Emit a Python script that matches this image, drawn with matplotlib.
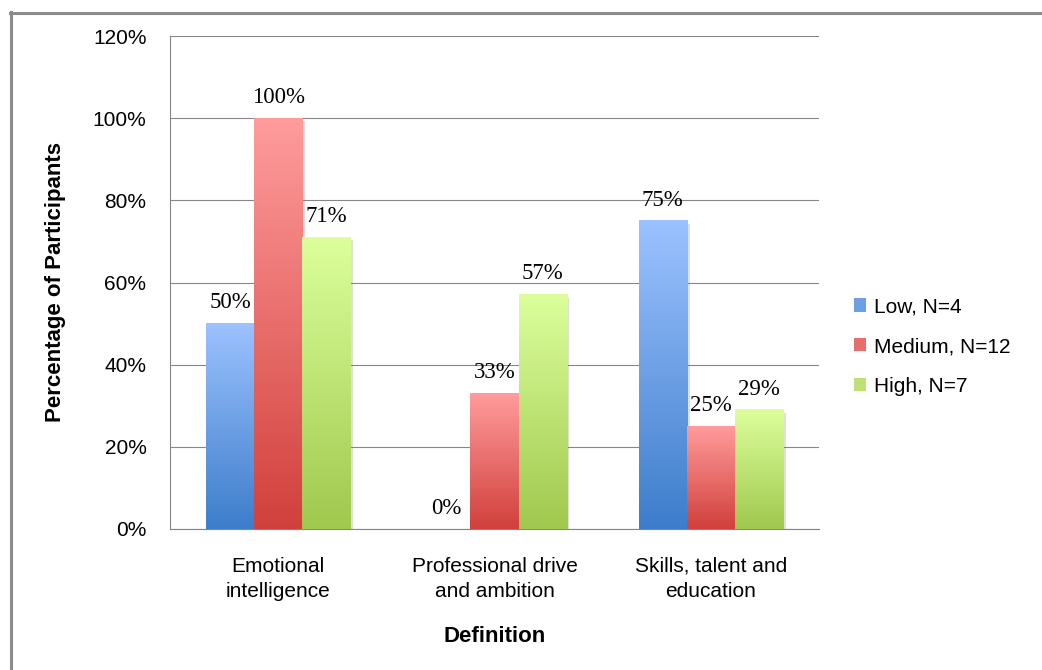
import numpy as np
import matplotlib.pyplot as plt
import matplotlib.transforms as mtransforms
from matplotlib.patches import Rectangle, Patch
from matplotlib.colors import LinearSegmentedColormap
from matplotlib.lines import Line2D

categories = ["Emotional\nintelligence", "Professional drive\nand ambition", "Skills, talent and\neducation"]
series = ["Low, N=4", "Medium, N=12", "High, N=7"]
low = [50, 0, 75]
medium = [100, 33, 25]
high = [71, 57, 29]
yticks = [0, 20, 40, 60, 80, 100, 120]

top_colors = ["#9cc2ff", "#ff9c9c", "#dcff9c"]
bottom_colors = ["#3d7dcb", "#d1403c", "#a0c84e"]
legend_colors = ["#6c9fe6", "#e66e6b", "#bde176"]

plt.rcParams['font.family'] = ['Liberation Sans', 'DejaVu Sans']

fig = plt.figure(figsize=(10.42, 6.70), dpi=100)
ax = fig.add_axes([170/1042, 1 - 529/670, (819 - 170)/1042, (529 - 36)/670])

x = np.arange(len(categories))
width = 0.222
grad = np.linspace(0, 1, 256).reshape(-1, 1)
shadow_tr = ax.transData + mtransforms.ScaledTranslation(2/72, -2/72, fig.dpi_scale_trans)

for i, vals in enumerate([low, medium, high]):
    cmap = LinearSegmentedColormap.from_list("g%d" % i, [top_colors[i], bottom_colors[i]])
    bars = ax.bar(x + (i - 1) * width, vals, width, color='none', zorder=3)
    for b, v in zip(bars, vals):
        x0, h, w = b.get_x(), b.get_height(), b.get_width()
        if h > 0:
            ax.add_patch(Rectangle((x0, 0), w, h, facecolor='#808080', alpha=0.25,
                                   edgecolor='none', transform=shadow_tr, zorder=2))
            ax.imshow(grad, cmap=cmap, extent=[x0, x0 + w, 0, h], aspect='auto',
                      zorder=3, interpolation='bilinear')
        ax.annotate(f"{v}%", (x0 + w/2, h), xytext=(0, 15), textcoords='offset points',
                    ha='center', va='center', fontsize=16.5,
                    family=['Liberation Serif', 'DejaVu Serif'])

ax.set_xlim(-0.5, 2.5)
ax.set_ylim(0, 120)
ax.set_yticks(yticks)
ax.set_yticklabels([f"{t}%" for t in yticks], fontsize=15)
ax.set_xticks(x)
ax.set_xticklabels(categories, fontsize=15, linespacing=1.42)
ax.tick_params(axis='y', length=0, pad=17)
ax.tick_params(axis='x', length=0, pad=20)
ax.yaxis.grid(True, color='#868686', lw=0.8)
ax.set_axisbelow(True)
for s in ['top', 'right']:
    ax.spines[s].set_visible(False)
for s in ['left', 'bottom']:
    ax.spines[s].set_color('#868686')
    ax.spines[s].set_linewidth(0.8)

ax.set_ylabel("Percentage of Participants", fontsize=16, fontweight='bold', labelpad=19)
ax.set_xlabel("Definition", fontsize=16, fontweight='bold', labelpad=18)

handles = [Patch(facecolor=c, edgecolor='none') for c in legend_colors]
fig.legend(handles, series, loc='upper left', bbox_to_anchor=(846/1042, 1 - 289/670),
           frameon=False, fontsize=15, handlelength=0.55, handleheight=0.6,
           handletextpad=0.4, labelspacing=1.0, borderaxespad=0)

fig.add_artist(Line2D([10/1042, 1], [1 - 13/670, 1 - 13/670], color='#8c8c8c', lw=2.2))
fig.add_artist(Line2D([11/1042, 11/1042], [0, 1 - 12/670], color='#8c8c8c', lw=2.2))

fig.savefig("out.png", dpi=100)
